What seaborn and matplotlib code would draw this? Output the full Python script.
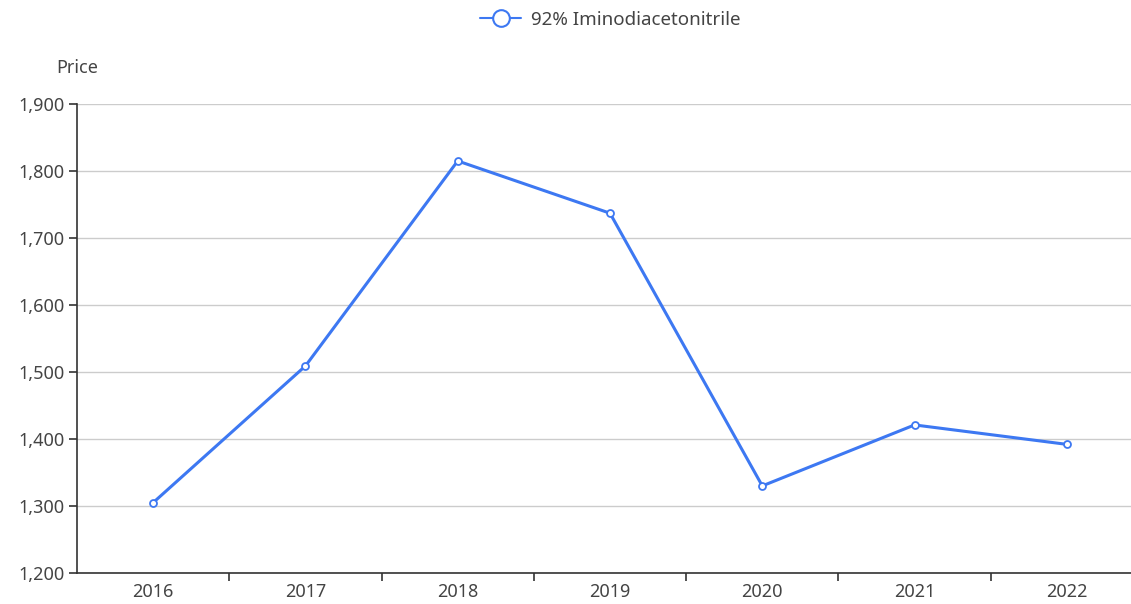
import pandas as pd
import matplotlib.pyplot as plt
import matplotlib.ticker as mticker
import seaborn as sns

# data
years = ['2016', '2017', '2018', '2019', '2020', '2021', '2022']
price = [1305, 1509, 1815, 1737, 1330, 1421, 1392]
series_name = '92% Iminodiacetonitrile'

df = pd.DataFrame({'year': years, 'price': price})

sns.set_style('white')
plt.rcParams['font.family'] = ['Noto Sans', 'DejaVu Sans']

fig = plt.figure(figsize=(11.31, 6.04), dpi=100)
ax = fig.add_axes([77 / 1131, 31 / 604, 1066 / 1131, 469 / 604])

line_color = '#3d78f2'
sns.lineplot(data=df, x='year', y='price', ax=ax, color=line_color,
             linewidth=2.2, marker='o', markersize=5,
             markerfacecolor='white', markeredgecolor=line_color,
             markeredgewidth=1.3, label=series_name)

ax.set_xlim(-0.5, 6.5)
ax.set_ylim(1200, 1900)
ax.yaxis.set_major_locator(mticker.MultipleLocator(100))
ax.yaxis.set_major_formatter(mticker.StrMethodFormatter('{x:,.0f}'))

# x ticks sit on the band boundaries, labels in the band centres
ax.set_xticks([i + 0.5 for i in range(6)])
ax.set_xticklabels([])
ax.set_xticks(range(7), minor=True)
ax.set_xticklabels(years, minor=True)
ax.tick_params(axis='x', which='major', length=6, width=1.2, color='#333333',
               direction='out', bottom=True)
ax.tick_params(axis='x', which='minor', length=0, pad=7, labelsize=13,
               labelcolor='#444444')
ax.tick_params(axis='y', length=6, width=1.2, color='#333333', direction='out',
               left=True, labelsize=13, labelcolor='#444444', pad=3)

ax.grid(axis='y', color='#cccccc', linewidth=1)
ax.set_axisbelow(True)
for side in ['top', 'right']:
    ax.spines[side].set_visible(False)
for side in ['left', 'bottom']:
    ax.spines[side].set_color('#333333')
    ax.spines[side].set_linewidth(1.2)

ax.set_xlabel('')
ax.set_ylabel('')
fig.text(77 / 1131, 1 - 68 / 604, 'Price', ha='center', va='center',
         fontsize=13, color='#444444')

leg = ax.legend(loc='center', bbox_to_anchor=(610 / 1131, 1 - 20 / 604),
                bbox_transform=fig.transFigure, frameon=False, fontsize=13.5,
                handlelength=2.2, handletextpad=0.5, labelcolor='#444444')
for h in leg.get_lines():
    h.set_linewidth(1.5)
    h.set_markersize(12)
    h.set_markeredgewidth(1.5)

plt.savefig('out.png', dpi=100)
